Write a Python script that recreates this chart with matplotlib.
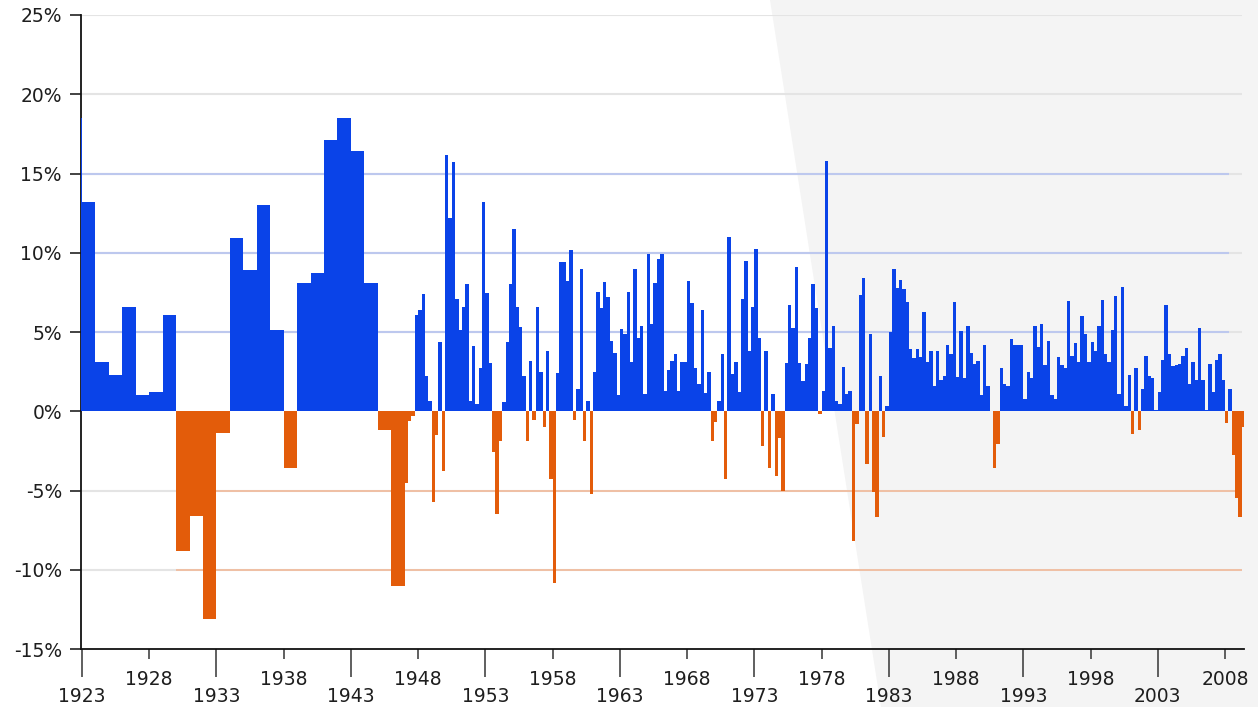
import numpy as np
import matplotlib
matplotlib.use("Agg")
import matplotlib.pyplot as plt
from matplotlib.patches import Polygon

# ---------------- data (percent growth) ----------------
annual_years = list(range(1922, 1947))
annual_growth = [18.5, 13.2, 3.1, 2.3, 6.6, 1.0, 1.2, 6.1, -8.8, -6.6, -13.1, -1.4,
                 10.9, 8.9, 13.0, 5.1, -3.6, 8.1, 8.7, 17.1, 18.5, 16.4, 8.1, -1.2, -11.0]

quarterly_start_year = 1947
q_1947_1956 = [-4.55, -0.6, -0.3, 6.1,   6.4, 7.4, 2.2, 0.67,   -5.7, -1.5, 4.4, -3.8,
               16.15, 12.2, 15.7, 7.1,   5.1, 6.6, 8.0, 0.67,   4.1, 0.46, 2.7, 13.2,
               7.45, 3.07, -2.55, -6.5,  -1.85, 0.57, 4.4, 8.0, 11.5, 6.6, 5.3, 2.25,
               -1.9, 3.2, -0.53, 6.6]
q_1957_1966 = [2.5, -1.0, 3.8, -4.3,   -10.85, 2.4, 9.4, 9.4,   8.2, 10.15, -0.55, 1.4,
               9.0, -1.9, 0.67, -5.2,  2.46, 7.5, 6.5, 8.15,    7.2, 4.46, 3.7, 1.0,
               5.2, 4.9, 7.5, 3.1,     8.95, 4.6, 5.4, 1.1,     9.9, 5.5, 8.1, 9.6,
               9.9, 1.3, 2.6, 3.2]
q_1967_1976 = [3.6, 1.3, 3.1, 3.1,     8.2, 6.85, 2.7, 1.7,     6.4, 1.16, 2.5, -1.9,
               -0.65, 0.67, 3.6, -4.3, 11.0, 2.34, 3.1, 1.2,    7.1, 9.5, 3.83, 6.6,
               10.25, 4.6, -2.2, 3.83, -3.6, 1.1, -4.06, -1.7,  -5.05, 3.05, 6.7, 5.25,
               9.1, 3.05, 1.9, 3.0]
q_1977_1986 = [4.6, 8.0, 6.5, -0.15,   1.3, 15.8, 4.0, 5.35,    0.67, 0.46, 2.8, 1.1,
               1.3, -8.2, -0.8, 7.35,  8.4, -3.3, 4.85, -5.07,  -6.7, 2.2, -1.6, 0.3,
               5.0, 9.0, 7.8, 8.25,    7.7, 6.9, 3.9, 3.35,     3.9, 3.4, 6.25, 3.1,
               3.8, 1.6, 3.8, 1.95]
q_1987_1996 = [2.25, 4.2, 3.6, 6.9,    2.15, 5.05, 2.1, 5.4,    3.7, 3.0, 3.2, 1.0,
               4.2, 1.6, 0.0, -3.6,    -2.06, 2.7, 1.7, 1.6,    4.55, 4.2, 4.15, 4.2,
               0.8, 2.5, 2.1, 5.35,    4.05, 5.5, 2.9, 4.45,    1.0, 0.8, 3.4, 2.9,
               2.7, 6.95, 3.5, 4.3]
q_1997_2009 = [3.1, 6.0, 4.9, 3.1,     4.35, 3.8, 5.4, 7.0,     3.6, 3.1, 5.1, 7.25,
               1.1, 7.85, 0.36, 2.3,   -1.43, 2.7, -1.2, 1.4,   3.5, 2.25, 2.1, 0.1,
               1.2, 3.25, 6.7, 3.6,    2.85, 2.9, 3.0, 3.5,     4.0, 1.7, 3.1, 2.0,
               5.25, 2.0, 0.1, 3.0,    1.2, 3.25, 3.6, 2.0,     -0.76, 1.4, -2.75, -5.5,
               -6.7, -1.0]

y_ticks = [-15, -10, -5, 0, 5, 10, 15, 20, 25]
x_major_ticks = list(range(1923, 2004, 10))
x_minor_ticks = list(range(1928, 2009, 10))

# ---------------- styles ----------------
BLUE = "#0A43E8"
ORANGE = "#E35C0A"
GRID_GRAY = "#E4E4E4"
GRID_BLUE = "#BDC8EE"
GRID_ORANGE = "#F1BD9F"
SHADE = "#F4F4F4"
TEXT = "#1E1E1E"

W, H = 1258, 707
fig = plt.figure(figsize=(W / 100, H / 100), dpi=100)
fig.patch.set_facecolor("white")
fig.patches.append(Polygon([[770 / W, 1], [1, 1], [1, 0], [881 / W, 0]], closed=True,
                           transform=fig.transFigure, facecolor=SHADE, edgecolor="none",
                           zorder=-5))

x_left, x_right = 1922.95, 2009.45
px_per_year = 13.447
ax_left_px = 82 - (1923 - x_left) * px_per_year
ax_width_px = (x_right - x_left) * px_per_year
ax = fig.add_axes([ax_left_px / W, 1 - 649 / H, ax_width_px / W, (649 - 15) / H])
ax.set_facecolor("none")
ax.set_xlim(x_left, x_right)
ax.set_ylim(-15, 25)

# grid lines (under bars)
for y in [-10, -5, 5, 10, 15, 20, 25]:
    ax.hlines(y, x_left, 2009.3, color=GRID_GRAY, lw=1.5, zorder=1)
for y in [5, 10, 15]:
    ax.hlines(y, 1923, 2008.3, color=GRID_BLUE, lw=1.5, zorder=1.5)
ax.hlines(-5, 1933, 2009.3, color=GRID_ORANGE, lw=1.3, zorder=1.5)
ax.hlines(-10, 1930, 2009.3, color=GRID_ORANGE, lw=1.3, zorder=1.5)

# annual bars
a_vals = np.array(annual_growth)
a_cols = [BLUE if v >= 0 else ORANGE for v in a_vals]
ax.bar(annual_years, a_vals, width=1.0, align="edge", color=a_cols, linewidth=0, zorder=2)

# quarterly bars
q_vals = np.array(q_1947_1956 + q_1957_1966 + q_1967_1976 + q_1977_1986 + q_1987_1996 + q_1997_2009)
q_x = quarterly_start_year + np.arange(len(q_vals)) * 0.25
q_cols = [BLUE if v >= 0 else ORANGE for v in q_vals]
ax.bar(q_x, q_vals, width=0.25, align="edge", color=q_cols, linewidth=0, zorder=2)

# axes styling
for s in ["top", "right"]:
    ax.spines[s].set_visible(False)
for s in ["left", "bottom"]:
    ax.spines[s].set_color("#111111")
    ax.spines[s].set_linewidth(1.3)
    ax.spines[s].set_zorder(1.9)

ax.set_yticks(y_ticks)
ax.set_yticklabels([f"{t}%" for t in y_ticks])
ax.tick_params(axis="y", length=8, width=1.2, color="#222222", labelsize=13.5,
               labelcolor=TEXT, pad=6)

ax.set_xticks(x_major_ticks)
ax.set_xticklabels([str(t) for t in x_major_ticks])
ax.set_xticks(x_minor_ticks, minor=True)
ax.set_xticklabels([str(t) for t in x_minor_ticks], minor=True)
ax.tick_params(axis="x", which="major", length=20, width=1.2, color="#444444",
               labelsize=13.5, labelcolor=TEXT, pad=7)
ax.tick_params(axis="x", which="minor", length=7.2, width=1.2, color="#444444",
               labelsize=13.5, labelcolor=TEXT, pad=8)

fig.savefig("out.png", dpi=100)
